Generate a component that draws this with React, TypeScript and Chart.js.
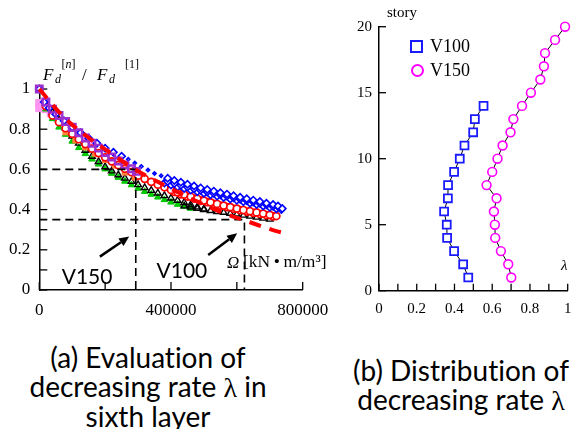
import React, { useEffect, useRef } from 'react';
import { Chart, registerables } from 'chart.js';

Chart.register(...registerables);

// ---------- (a) left panel data: F_d[n]/F_d[1] vs Omega ----------
const blueAX = [0, 15000, 30000, 50000, 75000, 100000, 125000, 150000, 175000, 200000, 225000, 250000, 270000, 290000, 310000, 330000, 350000, 370000, 390000, 410000, 430000, 450000, 470000, 490000, 510000, 530000, 550000, 570000, 590000, 610000, 630000, 650000, 670000, 690000, 710000, 725000, 738000];
const blueAY = [1.0, 0.935, 0.905, 0.875, 0.842, 0.81, 0.782, 0.755, 0.73, 0.705, 0.685, 0.665, 0.65, 0.632, 0.615, 0.597, 0.58, 0.568, 0.556, 0.545, 0.536, 0.526, 0.517, 0.508, 0.5, 0.492, 0.484, 0.477, 0.469, 0.461, 0.454, 0.447, 0.44, 0.432, 0.425, 0.418, 0.405];

const blueBX = [380000, 400000, 420000, 440000, 460000, 480000, 500000, 520000, 540000, 560000, 580000, 600000, 620000, 640000, 660000, 680000, 700000, 720000, 735000];
const blueBY = [0.532, 0.522, 0.513, 0.505, 0.497, 0.489, 0.481, 0.474, 0.467, 0.46, 0.453, 0.446, 0.439, 0.432, 0.425, 0.418, 0.411, 0.404, 0.4];

const blueCX = [390000, 410000, 430000, 450000, 470000, 490000, 510000, 530000, 550000, 570000, 590000, 610000, 630000, 650000, 670000, 690000, 710000, 728000];
const blueCY = [0.54, 0.53, 0.521, 0.512, 0.504, 0.496, 0.488, 0.481, 0.474, 0.467, 0.459, 0.452, 0.445, 0.438, 0.431, 0.424, 0.416, 0.41];

const redX = [0, 20000, 40000, 60000, 80000, 100000, 120000, 140000, 160000, 180000, 200000, 220000, 240000, 260000, 280000, 300000, 320000, 340000, 360000, 380000, 400000, 420000, 440000, 460000, 480000, 500000, 520000, 540000, 560000, 580000, 600000, 620000, 640000, 660000, 680000, 700000, 720000];
const redY = [1.0, 0.915, 0.868, 0.835, 0.805, 0.777, 0.75, 0.726, 0.703, 0.681, 0.66, 0.64, 0.621, 0.603, 0.586, 0.569, 0.553, 0.538, 0.524, 0.511, 0.498, 0.486, 0.475, 0.464, 0.454, 0.445, 0.436, 0.428, 0.42, 0.412, 0.405, 0.398, 0.392, 0.386, 0.38, 0.374, 0.368];

const redBX = [410000, 430000, 450000, 470000, 490000, 510000, 530000, 550000, 570000, 590000, 610000, 630000, 650000, 670000, 690000, 710000];
const redBY = [0.488, 0.476, 0.465, 0.455, 0.446, 0.437, 0.428, 0.42, 0.412, 0.404, 0.397, 0.39, 0.384, 0.378, 0.372, 0.366];

const blackAX = [20000, 40000, 60000, 80000, 100000, 120000, 140000, 160000, 180000, 200000, 220000, 240000, 260000, 280000, 300000, 320000, 340000, 360000, 380000, 400000, 420000, 440000, 460000, 480000, 500000];
const blackAY = [0.93, 0.885, 0.845, 0.805, 0.765, 0.73, 0.695, 0.665, 0.638, 0.613, 0.592, 0.573, 0.556, 0.54, 0.524, 0.509, 0.495, 0.482, 0.469, 0.457, 0.446, 0.435, 0.424, 0.413, 0.403];

const blackBX = [440000, 460000, 480000, 500000, 520000, 540000, 560000, 580000, 600000, 620000, 640000, 660000, 680000, 700000];
const blackBY = [0.418, 0.412, 0.406, 0.4, 0.395, 0.39, 0.386, 0.381, 0.377, 0.372, 0.367, 0.362, 0.357, 0.352];

const greenX = [20000, 40000, 60000, 80000, 100000, 120000, 140000, 160000, 180000, 200000, 220000, 240000, 260000, 280000, 300000, 320000, 340000, 360000, 380000, 400000, 420000, 440000, 460000];
const greenY = [0.9, 0.852, 0.81, 0.774, 0.74, 0.708, 0.678, 0.651, 0.626, 0.602, 0.58, 0.56, 0.541, 0.523, 0.506, 0.49, 0.476, 0.462, 0.449, 0.437, 0.426, 0.416, 0.406];

const purpleX = [0, 20000, 40000, 60000, 80000, 100000, 120000, 140000, 160000, 180000, 200000, 220000, 240000, 260000, 280000, 295000];
const purpleY = [1.0, 0.935, 0.9, 0.868, 0.838, 0.81, 0.782, 0.756, 0.73, 0.706, 0.684, 0.662, 0.642, 0.622, 0.603, 0.59];

const pinkX = [0, 0, 8000, 20000, 35000, 55000, 80000, 105000, 130000, 155000];
const pinkY = [0.93, 0.905, 0.915, 0.9, 0.88, 0.855, 0.825, 0.795, 0.765, 0.735];

const orangeX = [80000, 110000, 140000, 170000, 200000, 230000, 260000, 290000];
const orangeY = [0.785, 0.745, 0.71, 0.678, 0.648, 0.62, 0.585, 0.56];

const fitX = [0, 73000, 139000, 210000, 296000, 367000, 460000, 549000, 640000, 720000, 745000];
const fitY = [1.0, 0.862, 0.771, 0.688, 0.595, 0.532, 0.455, 0.39, 0.337, 0.293, 0.283];

const refV150X = [0, 293000, 293000];
const refV150Y = [0.6, 0.6, 0];
const refV100X = [0, 623000, 623000];
const refV100Y = [0.35, 0.35, 0];

const arrowTails = [[184000, 0.166], [513000, 0.174]];
const arrowTips = [[273000, 0.266], [601000, 0.282]];
const caseNames = ['V150', 'V100'];
const caseNameAt = [[145000, 0.032], [433000, 0.06]];

// ---------- (b) right panel data: lambda per story ----------
const stories = [1, 2, 3, 4, 5, 6, 7, 8, 9, 10, 11, 12, 13, 14, 15, 16, 17, 18, 19, 20];
const v100Lambda = [0.473, 0.446, 0.398, 0.361, 0.359, 0.345, 0.365, 0.366, 0.398, 0.428, 0.453, 0.499, 0.508, 0.554];
const v150Lambda = [0.701, 0.685, 0.646, 0.616, 0.614, 0.609, 0.623, 0.57, 0.6, 0.628, 0.655, 0.697, 0.712, 0.758, 0.805, 0.855, 0.874, 0.88, 0.933, 0.986];

const SERIF = '"Liberation Serif", "Times New Roman", serif';
const SANS = 'Lato, "Noto Sans", sans-serif';

const pts = (xs: number[], ys: number[]) => xs.map((x, i) => ({ x, y: ys[i] }));

function inwardTicks(len: number, width: number) {
  return {
    id: 'inwardTicks',
    beforeDatasetsDraw(chart: any) {
      const { ctx, chartArea, scales } = chart;
      ctx.save();
      ctx.strokeStyle = '#000';
      ctx.lineWidth = width;
      for (const t of scales.x.ticks) {
        const px = scales.x.getPixelForValue(t.value);
        ctx.beginPath();
        ctx.moveTo(px, chartArea.bottom);
        ctx.lineTo(px, chartArea.bottom - len);
        ctx.stroke();
      }
      for (const t of scales.y.ticks) {
        const py = scales.y.getPixelForValue(t.value);
        ctx.beginPath();
        ctx.moveTo(chartArea.left, py);
        ctx.lineTo(chartArea.left + len, py);
        ctx.stroke();
      }
      ctx.restore();
    },
  };
}

const arrowPlugin = {
  id: 'arrows',
  afterDatasetsDraw(chart: any) {
    const { ctx, scales } = chart;
    const xs = scales.x;
    const ys = scales.y;
    ctx.save();
    arrowTails.forEach((tail, i) => {
      const tip = arrowTips[i];
      const x0 = xs.getPixelForValue(tail[0]);
      const y0 = ys.getPixelForValue(tail[1]);
      const x1 = xs.getPixelForValue(tip[0]);
      const y1 = ys.getPixelForValue(tip[1]);
      const a = Math.atan2(y1 - y0, x1 - x0);
      const head = 10;
      const hw = 4.5;
      const bx = x1 - head * Math.cos(a);
      const by = y1 - head * Math.sin(a);
      ctx.strokeStyle = '#000';
      ctx.lineWidth = 2.5;
      ctx.beginPath();
      ctx.moveTo(x0, y0);
      ctx.lineTo(bx, by);
      ctx.stroke();
      ctx.fillStyle = '#000';
      ctx.beginPath();
      ctx.moveTo(x1, y1);
      ctx.lineTo(bx + hw * Math.sin(a), by - hw * Math.cos(a));
      ctx.lineTo(bx - hw * Math.sin(a), by + hw * Math.cos(a));
      ctx.closePath();
      ctx.fill();
    });
    ctx.font = `21px ${SANS}`;
    ctx.textAlign = 'center';
    ctx.textBaseline = 'alphabetic';
    ctx.fillStyle = '#000';
    caseNames.forEach((t, i) => {
      ctx.fillText(t, xs.getPixelForValue(caseNameAt[i][0]), ys.getPixelForValue(caseNameAt[i][1]));
    });
    ctx.restore();
  },
};

const axisCommon = {
  grid: { display: true, drawOnChartArea: false, drawTicks: false },
  border: { display: true, color: '#000', width: 1.5 },
};

const T = ({ x, base, size, italic, family, children }: any) => (
  <span
    style={{
      position: 'absolute',
      left: x,
      top: base - 0.84 * size,
      fontSize: size,
      lineHeight: `${size}px`,
      fontFamily: family ?? SERIF,
      fontStyle: italic ? 'italic' : 'normal',
      whiteSpace: 'nowrap',
      color: '#000',
    }}
  >
    {children}
  </span>
);

export default function App() {
  const leftRef = useRef<HTMLCanvasElement>(null);
  const rightRef = useRef<HTMLCanvasElement>(null);

  useEffect(() => {
    const smallBlue = (c: any) => {
      const x = c.raw ? c.raw.x : 0;
      return x >= 255000 && x <= 375000 ? 1.6 : 3.6;
    };
    const diamond = (xs: number[], ys: number[], r: any) => ({
      data: pts(xs, ys), pointStyle: 'rectRot', pointRadius: r, pointBorderColor: '#0000ff', pointBackgroundColor: '#ffffff', pointBorderWidth: 1.6, clip: false,
    });
    const circles = (xs: number[], ys: number[]) => ({
      data: pts(xs, ys), pointStyle: 'circle', pointRadius: 3.5, pointBorderColor: '#ff0000', pointBackgroundColor: '#ffffff', pointBorderWidth: 1.7, clip: false,
    });
    const left = new Chart(leftRef.current as HTMLCanvasElement, {
      type: 'scatter',
      data: {
        datasets: [
          { data: pts(fitX, fitY), showLine: true, cubicInterpolationMode: 'monotone', borderColor: '#ff0000', borderWidth: 4, borderDash: [12, 9], pointRadius: 0, clip: false } as any,
          { data: pts(refV150X, refV150Y), showLine: true, borderColor: '#000', borderWidth: 1.6, borderDash: [8, 5], pointRadius: 0, clip: false },
          { data: pts(refV100X, refV100Y), showLine: true, borderColor: '#000', borderWidth: 1.6, borderDash: [8, 5], pointRadius: 0, clip: false },
          { data: pts(purpleX, purpleY), pointStyle: 'rect', pointRadius: 4.6, pointBorderColor: '#9b30d0', pointBackgroundColor: 'rgba(0,0,0,0)', pointBorderWidth: 2.4, clip: false },
          diamond(blueAX, blueAY, smallBlue),
          diamond(blueCX, blueCY, 3.6),
          diamond(blueBX, blueBY, 3.6),
          circles(redX, redY),
          circles(redBX, redBY),
          { data: pts(orangeX, orangeY), pointStyle: 'rect', pointRadius: 3.8, pointBorderColor: '#ff7a30', pointBackgroundColor: '#ff8a40', pointBorderWidth: 1, clip: false },
          { data: pts(blackBX, blackBY), pointStyle: 'triangle', pointRadius: 3.7, pointBorderColor: '#000', pointBackgroundColor: 'rgba(0,0,0,0)', pointBorderWidth: 1.4, clip: false },
          { data: pts(blackAX, blackAY), pointStyle: 'triangle', pointRadius: 3.8, pointBorderColor: '#000', pointBackgroundColor: 'rgba(0,0,0,0)', pointBorderWidth: 1.4, clip: false },
          { data: pts(greenX, greenY), pointStyle: 'triangle', pointRadius: 3.8, pointBorderColor: '#00c000', pointBackgroundColor: '#00d000', pointBorderWidth: 1, clip: false },
          { data: pts(pinkX, pinkY), pointStyle: 'rect', pointRadius: 5, pointBorderColor: '#ff8cf0', pointBackgroundColor: '#ff9cf2', pointBorderWidth: 1, clip: false },
        ],
      },
      options: {
        animation: false,
        responsive: false,
        events: [],
        layout: { autoPadding: false, padding: { left: 0, top: 89, right: 37.3, bottom: 10 } },
        plugins: { legend: { display: false }, tooltip: { enabled: false } },
        scales: {
          x: {
            type: 'linear',
            min: 0,
            max: 800000,
            ...axisCommon,
            afterFit: (s: any) => { s.height = 30; },
            ticks: {
              stepSize: 200000,
              autoSkip: false,
              maxRotation: 0,
              padding: 10,
              color: '#000',
              font: { family: SERIF, size: 17 },
              callback: (v: any) => (Number(v) % 400000 === 0 ? String(v) : ''),
            },
          },
          y: {
            type: 'linear',
            min: 0,
            max: 1,
            ...axisCommon,
            afterFit: (s: any) => { s.width = 39.3; },
            ticks: {
              stepSize: 0.1,
              autoSkip: false,
              padding: 9,
              color: '#000',
              font: { family: SERIF, size: 17 },
              callback: (v: any) => {
                const k = Math.round(Number(v) * 10);
                return k % 2 === 0 ? String(k / 10) : '';
              },
            },
          },
        },
      } as any,
      plugins: [inwardTicks(8, 1.3), arrowPlugin],
    });

    const right = new Chart(rightRef.current as HTMLCanvasElement, {
      type: 'scatter',
      data: {
        datasets: [
          { label: 'V100', data: v100Lambda.map((x, i) => ({ x, y: stories[i] })), showLine: true, borderColor: '#000', borderWidth: 1, pointStyle: 'rect', pointRadius: 5.6, pointBorderColor: '#1a1aff', pointBackgroundColor: '#ffffff', pointBorderWidth: 1.8, clip: false },
          { label: 'V150', data: v150Lambda.map((x, i) => ({ x, y: stories[i] })), showLine: true, borderColor: '#000', borderWidth: 1, pointStyle: 'circle', pointRadius: 4.4, pointBorderColor: '#ff00ff', pointBackgroundColor: '#ffffff', pointBorderWidth: 1.6, clip: false },
        ],
      },
      options: {
        animation: false,
        responsive: false,
        events: [],
        layout: { autoPadding: false, padding: { left: 0, top: 26.7, right: 14.3, bottom: 9.3 } },
        plugins: { legend: { display: false }, tooltip: { enabled: false } },
        scales: {
          x: {
            type: 'linear',
            min: 0,
            max: 1,
            ...axisCommon,
            afterFit: (s: any) => { s.height = 30; },
            ticks: {
              stepSize: 0.1,
              autoSkip: false,
              maxRotation: 0,
              padding: 9.3,
              color: '#000',
              font: { family: SERIF, size: 15 },
              callback: (v: any) => {
                const k = Math.round(Number(v) * 10);
                return k % 2 === 0 ? String(k / 10) : '';
              },
            },
          },
          y: {
            type: 'linear',
            min: 0,
            max: 20,
            ...axisCommon,
            afterFit: (s: any) => { s.width = 39; },
            ticks: {
              stepSize: 5,
              autoSkip: false,
              padding: 7,
              color: '#000',
              font: { family: SERIF, size: 15 },
            },
          },
        },
      } as any,
      plugins: [inwardTicks(7, 1.3)],
    });

    return () => {
      left.destroy();
      right.destroy();
    };
  }, []);

  const caption: React.CSSProperties = {
    position: 'absolute', textAlign: 'center', fontFamily: SANS, fontSize: 28, lineHeight: '28.5px', color: '#000', fontVariantLigatures: 'none',
  };

  return (
    <div style={{ position: 'absolute', left: 0, top: 0, width: 582, height: 429, background: '#fff', overflow: 'hidden' }}>
      <canvas ref={leftRef} width={340} height={330} style={{ position: 'absolute', left: 0, top: 0, width: 340, height: 330 }} />
      <canvas ref={rightRef} width={242} height={330} style={{ position: 'absolute', left: 340, top: 0, width: 242, height: 330 }} />

      {/* (a) axis titles */}
      <T x={43} base={80} size={17} italic>F</T>
      <T x={55} base={83} size={12} italic>d</T>
      <T x={61.5} base={68.5} size={12}>[<i>n</i>]</T>
      <T x={82} base={80} size={17}>/</T>
      <T x={97} base={80} size={17} italic>F</T>
      <T x={109} base={83} size={12} italic>d</T>
      <T x={125} base={68.5} size={12}>[1]</T>
      <T x={227} base={268} size={17} italic>Ω</T>
      <T x={243} base={268} size={17.5}>[kN{'\u2009'}•{'\u2009'}m/m³]</T>

      {/* (b) axis titles and legend */}
      <T x={387} base={17.5} size={15}>story</T>
      <T x={561} base={271} size={15} italic>λ</T>
      <div style={{ position: 'absolute', left: 410, top: 40, width: 13, height: 13, boxSizing: 'border-box', border: '2px solid #1a1aff', background: '#fff' }} />
      <T x={430} base={52.5} size={18}>V100</T>
      <div style={{ position: 'absolute', left: 410.5, top: 63.5, width: 13, height: 13, boxSizing: 'border-box', border: '2px solid #ff00ff', borderRadius: '50%', background: '#fff' }} />
      <T x={430} base={76} size={18}>V150</T>

      {/* captions */}
      <div style={{ ...caption, left: 0, width: 296, top: 343 }}>
        (a) Evaluation of<br />decreasing rate <span style={{ fontFamily: SERIF }}>λ</span> in<br />sixth layer
      </div>
      <div style={{ ...caption, left: 340, width: 242, top: 356 }}>
        (b) Distribution of<br />decreasing rate <span style={{ fontFamily: SERIF }}>λ</span>
      </div>
    </div>
  );
}
